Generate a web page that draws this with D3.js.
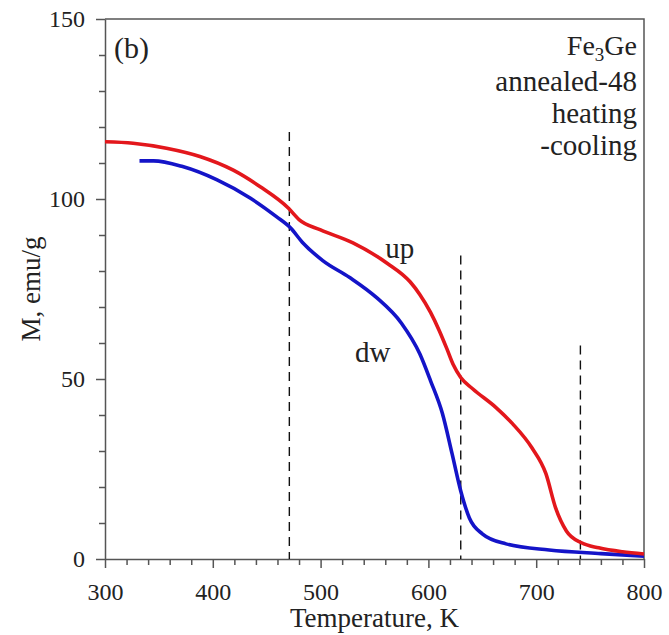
<!DOCTYPE html>
<html>
<head>
<meta charset="utf-8">
<script src="https://cdn.jsdelivr.net/npm/d3@7"></script>
<style>
  html, body { margin: 0; padding: 0; background: #fff; }
  svg text { font-family: "Liberation Serif", "Times New Roman", serif; fill: #222; }
  .axis path, .axis line { stroke: #555; stroke-width: 1.5; }
  .axis text { font-size: 24px; }
</style>
</head>
<body>
<div id="chart"></div>
<script>
(function() {

  // ---- data: heating (up) and cooling (dw) branches ----
  const upTemp = [300, 326, 357, 388, 419, 444, 470, 480, 500, 530, 562, 583, 592, 602, 610, 617, 623, 630, 641, 663, 678, 696, 709, 718, 728, 742, 758, 780, 800];
  const upMag  = [115.9, 115.5, 114.1, 111.8, 108, 103.4, 97.5, 94.3, 91.4, 87.8, 82.1, 77, 73.5, 68.5, 63.5, 58.5, 54, 50.4, 47.3, 42, 37.6, 30.9, 23.7, 14.2, 7.8, 4.5, 3.1, 2.0, 1.4];

  const dwTemp = [332, 345, 372, 404, 435, 459, 472, 483, 502, 527, 552, 575, 592, 602, 613, 622, 630, 638, 650, 672, 712, 760, 800];
  const dwMag  = [110.6, 110.6, 109, 105.3, 100.2, 95.1, 92.0, 88, 82.9, 78.2, 72.6, 65.5, 57, 49.5, 40.4, 29.2, 18.9, 11.4, 7, 4.2, 2.5, 1.5, 0.8];

  // dashed transition markers: temperature and top of the line (M)
  const markTemp = [471, 630, 741];
  const markTop  = [118.6, 84.3, 59.3];

  const xMajor = [300, 400, 500, 600, 700, 800];
  const yMajor = [0, 50, 100, 150];

  const infoLines = ["annealed-48", "heating", "-cooling"];

  // ---- layout ----
  const width = 669, height = 635;
  const margin = {top: 19, right: 25, bottom: 76, left: 105};
  const innerW = width - margin.left - margin.right;
  const innerH = height - margin.top - margin.bottom;
  const serif = "'Liberation Serif', 'Times New Roman', serif";

  const svg = d3.select("#chart").append("svg")
      .attr("width", width)
      .attr("height", height);

  const g = svg.append("g")
      .attr("transform", `translate(${margin.left},${margin.top})`);

  const x = d3.scaleLinear().domain([300, 800]).range([0, innerW]);
  const y = d3.scaleLinear().domain([0, 150]).range([innerH, 0]);

  // ---- axes ----
  const xMinor = d3.range(300, 801, 20).filter(v => !xMajor.includes(v));
  const yMinor = d3.range(0, 151, 10).filter(v => !yMajor.includes(v));

  g.append("g").attr("class", "axis")
      .attr("transform", `translate(0,${innerH})`)
      .call(d3.axisBottom(x).tickValues(xMinor).tickSize(6).tickFormat("").tickSizeOuter(0))
      .select(".domain").remove();
  g.append("g").attr("class", "axis")
      .attr("transform", `translate(0,${innerH})`)
      .call(d3.axisBottom(x).tickValues(xMajor).tickSize(9).tickPadding(15).tickSizeOuter(0));

  g.append("g").attr("class", "axis")
      .call(d3.axisLeft(y).tickValues(yMinor).tickSize(6).tickFormat("").tickSizeOuter(0))
      .select(".domain").remove();
  g.append("g").attr("class", "axis")
      .call(d3.axisLeft(y).tickValues(yMajor).tickSize(9).tickPadding(11).tickSizeOuter(0));

  g.selectAll(".axis").attr("font-family", serif);

  // top and right frame
  g.append("path")
      .attr("d", `M0,0H${innerW}V${innerH}`)
      .attr("fill", "none")
      .attr("stroke", "#555")
      .attr("stroke-width", 1.5);

  // ---- dashed markers ----
  g.selectAll(".mark")
      .data(markTemp.map((t, i) => ({t, top: markTop[i]})))
      .enter().append("line")
      .attr("class", "mark")
      .attr("x1", d => x(d.t)).attr("x2", d => x(d.t))
      .attr("y1", d => y(d.top)).attr("y2", y(0))
      .attr("stroke", "#111")
      .attr("stroke-width", 1.4)
      .attr("stroke-dasharray", "9,6");

  // ---- curves ----
  const line = d3.line()
      .x(d => x(d[0]))
      .y(d => y(d[1]))
      .curve(d3.curveMonotoneX);

  g.append("path")
      .datum(dwTemp.map((t, i) => [t, dwMag[i]]))
      .attr("fill", "none")
      .attr("stroke", "#1414c8")
      .attr("stroke-width", 3.6)
      .attr("d", line);

  g.append("path")
      .datum(upTemp.map((t, i) => [t, upMag[i]]))
      .attr("fill", "none")
      .attr("stroke", "#e3171c")
      .attr("stroke-width", 3.6)
      .attr("d", line);

  // ---- labels ----
  svg.append("text")
      .attr("x", (margin.left + width - margin.right) / 2)
      .attr("y", 627)
      .attr("text-anchor", "middle")
      .attr("font-size", 27)
      .text("Temperature, K");

  svg.append("text")
      .attr("transform", `translate(40,${margin.top + innerH / 2}) rotate(-90)`)
      .attr("text-anchor", "middle")
      .attr("font-size", 27)
      .text("M, emu/g");

  svg.append("text")
      .attr("x", 114).attr("y", 58)
      .attr("font-size", 30)
      .text("(b)");

  const fe = svg.append("text")
      .attr("x", 637).attr("y", 55)
      .attr("text-anchor", "end")
      .attr("font-size", 28);
  fe.append("tspan").text("Fe");
  fe.append("tspan").attr("font-size", 19).attr("dy", 6).text("3");
  fe.append("tspan").attr("dy", -6).text("Ge");

  svg.selectAll(".info")
      .data(infoLines)
      .enter().append("text")
      .attr("class", "info")
      .attr("x", 637)
      .attr("y", (d, i) => 91 + i * 32)
      .attr("text-anchor", "end")
      .attr("font-size", 29)
      .text(d => d);

  g.append("text")
      .attr("x", x(560)).attr("y", y(83.6))
      .attr("font-size", 29)
      .text("up");

  g.append("text")
      .attr("x", x(532)).attr("y", y(54.8))
      .attr("font-size", 29)
      .text("dw");

})();
</script>
</body>
</html>
